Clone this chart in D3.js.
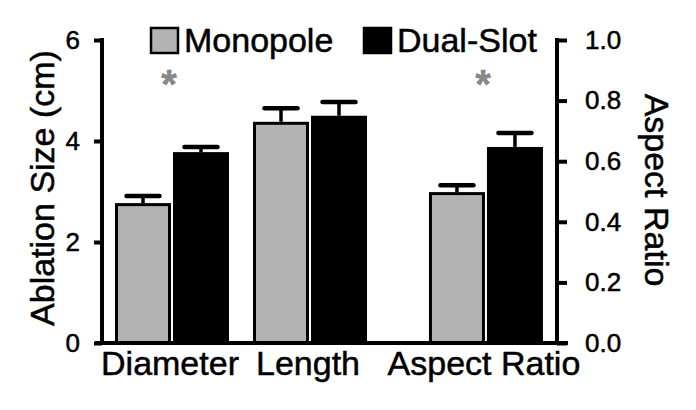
<!DOCTYPE html>
<html>
<head>
<meta charset="utf-8">
<script src="https://cdn.jsdelivr.net/npm/d3@7"></script>
<style>
  html, body { margin: 0; padding: 0; background: #fff; }
  svg text { font-family: "Liberation Sans", Arial, Helvetica, sans-serif; stroke: currentColor; stroke-width: 0.5px; }
</style>
</head>
<body>
<svg id="chart" width="696" height="410"></svg>
<script>
// data
var categories = ['Diameter', 'Length', 'Aspect Ratio'];
var catSlot = [0, 1, 2.275];               // aspect ratio group sits a bit further right
var useRightAxis = [false, false, true];
var monoMean = [2.77, 4.38, 0.498];
var monoErr = [0.14, 0.27, 0.023];
var dualMean = [3.78, 4.50, 0.647];
var dualErr = [0.10, 0.27, 0.046];
var significant = [true, false, true];
var leftTicks = [0, 2, 4, 6];
var rightTicks = [0, 0.2, 0.4, 0.6, 0.8, 1.0];
var seriesNames = ['Monopole', 'Dual-Slot'];
var seriesColors = ['#b3b3b3', '#000'];

var svg = d3.select('#chart');
var y0 = 343, yTop = 40;

var x = d3.scaleLinear().domain([0, 1]).range([172, 310]);
var yL = d3.scaleLinear().domain([0, 6]).range([y0, yTop]);
var yR = d3.scaleLinear().domain([0, 1]).range([y0, yTop]);

var barW = 56, gap = 2;

// left axis
var gL = svg.append('g').attr('transform', 'translate(102,0)')
  .call(d3.axisLeft(yL).tickValues(leftTicks).tickSize(8).tickPadding(14).tickFormat(d3.format('d')));
gL.select('.domain').remove();
gL.append('line').attr('x1', 0).attr('x2', 0).attr('y1', yTop - 2).attr('y2', y0 + 2)
  .attr('stroke', '#000').attr('stroke-width', 4);
gL.selectAll('.tick line').attr('stroke', '#000').attr('stroke-width', 4);
gL.selectAll('.tick text').attr('fill', '#000').style('color', '#000').attr('font-size', 26);

// right axis
var gR = svg.append('g').attr('transform', 'translate(557,0)')
  .call(d3.axisRight(yR).tickValues(rightTicks).tickSize(10).tickPadding(18).tickFormat(d3.format('.1f')));
gR.select('.domain').remove();
gR.append('line').attr('x1', 0).attr('x2', 0).attr('y1', yTop - 2).attr('y2', y0 + 2)
  .attr('stroke', '#000').attr('stroke-width', 4);
gR.selectAll('.tick line').attr('stroke', '#000').attr('stroke-width', 4);
gR.selectAll('.tick text').attr('fill', '#000').style('color', '#000').attr('font-size', 26);

// bars
var groups = svg.selectAll('g.grp').data(categories).enter().append('g').attr('class', 'grp');

groups.each(function(cat, i) {
  var g = d3.select(this);
  var yS = useRightAxis[i] ? yR : yL;
  var c = x(catSlot[i]);
  var bars = [
    {x0: c - gap / 2 - barW, m: monoMean[i], e: monoErr[i], fill: seriesColors[0]},
    {x0: c + gap / 2, m: dualMean[i], e: dualErr[i], fill: seriesColors[1]}
  ];
  bars.forEach(function(b) {
    var cx = b.x0 + barW / 2;
    g.append('line').attr('x1', cx).attr('x2', cx)
      .attr('y1', yS(b.m)).attr('y2', yS(b.m + b.e))
      .attr('stroke', '#000').attr('stroke-width', 3.5);
    g.append('line').attr('x1', cx - 16.5).attr('x2', cx + 16.5)
      .attr('y1', yS(b.m + b.e)).attr('y2', yS(b.m + b.e))
      .attr('stroke', '#000').attr('stroke-width', 4.5).attr('stroke-linecap', 'round');
    g.append('rect')
      .attr('x', b.x0 + 1.5).attr('width', barW - 3)
      .attr('y', yS(b.m) + 1.5).attr('height', y0 - yS(b.m) - 1.5)
      .attr('fill', b.fill).attr('stroke', '#000').attr('stroke-width', 3);
  });
  if (significant[i]) {
    g.append('text').attr('x', c - 3).attr('y', 98)
      .attr('text-anchor', 'middle').attr('font-size', 40).attr('font-weight', 'bold')
      .attr('fill', '#888').style('color', '#888')
      .text('*');
  }
  g.append('text').attr('x', c - 2).attr('y', 375)
    .attr('text-anchor', 'middle').attr('font-size', 34).attr('fill', '#000').style('color', '#000')
    .text(cat);
});

// baseline
svg.append('line').attr('x1', 95).attr('x2', 568).attr('y1', y0).attr('y2', y0)
  .attr('stroke', '#000').attr('stroke-width', 4);

// axis titles
svg.append('text').attr('transform', 'translate(42,188) rotate(-90)')
  .attr('text-anchor', 'middle').attr('dominant-baseline', 'central')
  .attr('font-size', 34).attr('fill', '#000').style('color', '#000').text('Ablation Size (cm)');
svg.append('text').attr('transform', 'translate(657,190) rotate(90)')
  .attr('text-anchor', 'middle').attr('dominant-baseline', 'central')
  .attr('font-size', 34).attr('fill', '#000').style('color', '#000').text('Aspect Ratio');

// legend
var legendX = [151, 364];
var leg = svg.selectAll('g.leg').data(seriesNames).enter().append('g').attr('class', 'leg')
  .attr('transform', function(d, i) { return 'translate(' + legendX[i] + ',28)'; });
leg.append('rect').attr('width', 27).attr('height', 25)
  .attr('fill', function(d, i) { return seriesColors[i]; })
  .attr('stroke', '#000').attr('stroke-width', 2.5);
leg.append('text').attr('x', 33).attr('y', 24).attr('font-size', 34).attr('fill', '#000').style('color', '#000')
  .text(function(d) { return d; });
</script>
</body>
</html>
